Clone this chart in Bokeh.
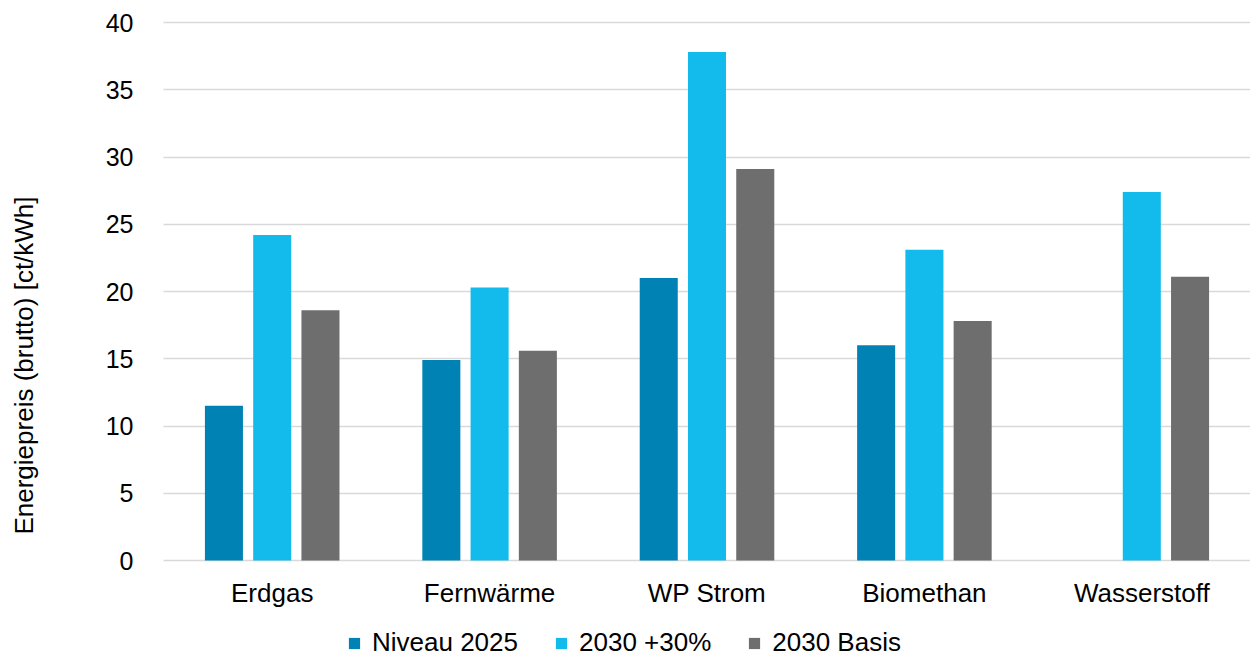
import math
from bokeh.plotting import figure
from bokeh.models import ColumnDataSource, Range1d, Legend, LegendItem, Label
from bokeh.transform import dodge
from bokeh.embed import file_html
from bokeh.resources import INLINE

categories = ["Erdgas", "Fernwärme", "WP Strom", "Biomethan", "Wasserstoff"]
niveau_2025 = [11.5, 14.9, 21.0, 16.0, float("nan")]
plus_30 = [24.2, 20.3, 37.8, 23.1, 27.4]
basis_2030 = [18.6, 15.6, 29.1, 17.8, 21.1]
series_names = ["Niveau 2025", "2030 +30%", "2030 Basis"]
y_ticks = [0, 5, 10, 15, 20, 25, 30, 35, 40]

colors = ["#0083b4", "#12bbeb", "#6e6e6e"]
FONT = "Liberation Sans"

W, H = 1250, 657
# plot area (in pixels): left 163, right 1250, top 22, bottom 560
PL, PR, PT, PB = 163, 1250, 22, 560
ncat = len(categories)
px_per_x = (PR - PL) / ncat
px_per_y = (PB - PT) / 40.0

xpos = [i + 0.5 for i in range(ncat)]
src = ColumnDataSource(dict(x=xpos, a=niveau_2025, b=plus_30, c=basis_2030))

p = figure(
    x_range=Range1d(-PL / px_per_x, (W - PL) / px_per_x),
    y_range=Range1d(-(H - PB) / px_per_y, 40 + PT / px_per_y),
    width=W, height=H,
    min_border=0,
    output_backend="svg", toolbar_location=None,
)
p.outline_line_color = None

bw = 0.175
r1 = p.vbar(x=dodge("x", -0.222), top="a", width=bw, source=src,
            fill_color=colors[0], line_color=None)
r2 = p.vbar(x=dodge("x", 0.0), top="b", width=bw, source=src,
            fill_color=colors[1], line_color=None)
r3 = p.vbar(x=dodge("x", 0.222), top="c", width=bw, source=src,
            fill_color=colors[2], line_color=None)

p.xgrid.grid_line_color = None
p.ygrid.grid_line_color = "#d9d9d9"
p.ygrid.grid_line_width = 1.5
p.ygrid.cross_bounds = (0, ncat)

p.yaxis.ticker = y_ticks
p.xaxis.ticker = xpos
p.xaxis.major_label_overrides = {x: c for x, c in zip(xpos, categories)}
p.xaxis.fixed_location = 0
p.yaxis.fixed_location = 0

for ax in (p.xaxis[0], p.yaxis[0]):
    ax.axis_line_color = None
    ax.major_tick_line_color = None
    ax.minor_tick_line_color = None
    ax.major_label_text_font = FONT
    ax.major_label_text_color = "#000000"

p.yaxis.major_label_text_font_size = "25px"
p.yaxis.major_label_standoff = 24
p.xaxis.major_label_text_font_size = "26px"
p.xaxis.major_label_standoff = 11

ylab = Label(x=23, y=H - 365, x_units="screen", y_units="screen",
             text="Energiepreis (brutto) [ct/kWh]", angle=math.pi / 2,
             text_align="center", text_baseline="middle",
             text_font=FONT, text_font_size="26px", text_color="#000000")
p.add_layout(ylab)

legend = Legend(
    items=[LegendItem(label=series_names[0], renderers=[r1]),
           LegendItem(label=series_names[1], renderers=[r2]),
           LegendItem(label=series_names[2], renderers=[r3])],
    orientation="horizontal",
    location=(347, -1),
    glyph_width=14, glyph_height=14,
    label_standoff=11, spacing=36,
    padding=0, margin=0,
    border_line_color=None, background_fill_alpha=0,
    label_text_font=FONT, label_text_font_size="26px", label_text_color="#000000",
)
p.add_layout(legend, "center")

open("out.html", "w").write(file_html(p, INLINE))
